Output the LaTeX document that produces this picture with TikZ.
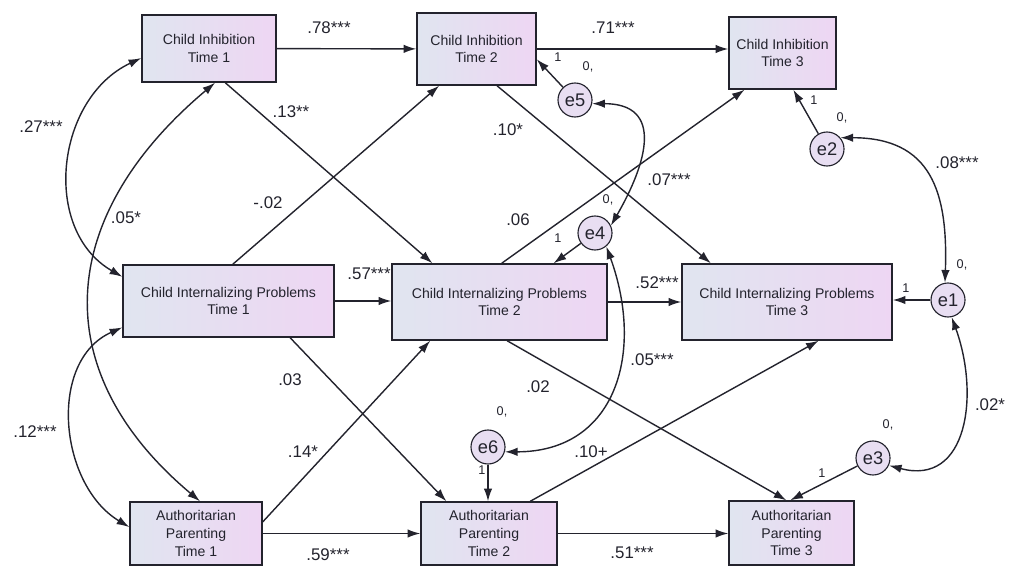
\documentclass[tikz,border=0pt]{standalone}
\usepackage{fontspec}
\setmainfont{Liberation Sans}
\usetikzlibrary{arrows.meta,calc,positioning}
\definecolor{BoxLeft}{RGB}{224,229,240}
\definecolor{BoxRight}{RGB}{238,214,243}
\definecolor{ErrFill}{RGB}{232,222,242}
\definecolor{InkGray}{RGB}{35,35,45}

\tikzset{
  obs/.style={draw=InkGray,line width=1pt,left color=BoxLeft,right color=BoxRight,
    align=center,font=\fontsize{10}{12.5}\selectfont,text=InkGray,inner sep=2pt},
  err/.style={circle,draw=InkGray,line width=0.8pt,fill=ErrFill,minimum size=0.85cm,
    inner sep=0pt,font=\fontsize{13}{13}\selectfont,text=InkGray},
  coef/.style={font=\fontsize{12}{12}\selectfont,text=InkGray,inner sep=1pt},
  fixlbl/.style={font=\fontsize{9}{9}\selectfont,text=InkGray,inner sep=1pt},
  reg/.style={->,line width=1pt,draw=InkGray},
  cov/.style={<->,line width=1pt,draw=InkGray},
}

\begin{document}
\begin{tikzpicture}[x=0.025cm,y=0.025cm,>={Latex[length=9pt,width=6pt]}]
  \useasboundingbox (0,0) rectangle (1011,566);

  % observed variables
  \node[obs,minimum width=3.35cm,minimum height=1.675cm] (ci1) at (209,517.5) {Child Inhibition\\Time 1};
  \node[obs,minimum width=2.975cm,minimum height=1.8cm] (ci2) at (476.5,517) {Child Inhibition\\Time 2};
  \node[obs,minimum width=2.675cm,minimum height=1.8cm] (ci3) at (782.5,513) {Child Inhibition\\Time 3};
  \node[obs,minimum width=5.275cm,minimum height=1.8cm] (cip1) at (228.5,265) {Child Internalizing Problems\\Time 1};
  \node[obs,minimum width=5.375cm,minimum height=1.9cm] (cip2) at (499.5,264) {Child Internalizing Problems\\Time 2};
  \node[obs,minimum width=5.25cm,minimum height=1.9cm] (cip3) at (787,264) {Child Internalizing Problems\\Time 3};
  \node[obs,minimum width=3.3cm,minimum height=1.575cm] (ap1) at (196,32.5) {Authoritarian\\Parenting\\Time 1};
  \node[obs,minimum width=3.4cm,minimum height=1.575cm] (ap2) at (489,32.5) {Authoritarian\\Parenting\\Time 2};
  \node[obs,minimum width=3.125cm,minimum height=1.6cm] (ap3) at (791.5,33) {Authoritarian\\Parenting\\Time 3};

  % residuals
  \node[err] (e5) at (575,466) {e5};
  \node[err] (e2) at (827,417) {e2};
  \node[err] (e4) at (595,333) {e4};
  \node[err] (e1) at (948,266) {e1};
  \node[err] (e6) at (488,119) {e6};
  \node[err] (e3) at (873,108) {e3};

  % stability paths
  \draw[reg] (ci1) -- (ci2);
  \draw[reg] (ci2.east) -- (ci2.east -| ci3.west);
  \draw[reg] (cip1.east) -- (cip1.east -| cip2.west);
  \draw[reg] (cip2.east) -- (cip2.east -| cip3.west);
  \draw[reg] (ap1) -- (ap2);
  \draw[reg] (ap2.east) -- (ap2.east -| ap3.west);

  % cross-lagged paths
  \draw[reg] ($(ci1.south west)!0.62!(ci1.south east)$) -- ($(cip2.north west)!0.19!(cip2.north east)$);
  \draw[reg] ($(cip1.north west)!0.52!(cip1.north east)$) -- ($(ci2.south west)!0.19!(ci2.south east)$);
  \draw[reg] ($(ci2.south west)!0.67!(ci2.south east)$) -- ($(cip3.north west)!0.14!(cip3.north east)$);
  \draw[reg] ($(cip2.north west)!0.51!(cip2.north east)$) -- ($(ci3.south west)!0.15!(ci3.south east)$);
  \draw[reg] ($(cip1.south west)!0.79!(cip1.south east)$) -- ($(ap2.north west)!0.19!(ap2.north east)$);
  \draw[reg] ($(ap1.north east)!0.32!(ap1.south east)$) -- ($(cip2.south west)!0.18!(cip2.south east)$);
  \draw[reg] ($(cip2.south west)!0.535!(cip2.south east)$) -- ($(ap3.north west)!0.46!(ap3.north east)$);
  \draw[reg] ($(ap2.north west)!0.8!(ap2.north east)$) -- ($(cip3.south west)!0.65!(cip3.south east)$);

  % residual paths
  \draw[reg] (e5) -- ($(ci2.north east)!0.64!(ci2.south east)$);
  \draw[reg] (e2) -- ($(ci3.south west)!0.6!(ci3.south east)$);
  \draw[reg] (e4) -- ($(cip2.north west)!0.75!(cip2.north east)$);
  \draw[reg] (e1) -- (e1 -| cip3.east);
  \draw[reg] (e6) -- (e6 |- ap2.north);
  \draw[reg] (e3) -- ($(ap3.north west)!0.49!(ap3.north east)$);

  % covariances
  \draw[cov] ($(ci1.north west)!0.64!(ci1.south west)$) to[out=205,in=150,looseness=1.1] ($(cip1.north west)!0.17!(cip1.south west)$);
  \draw[cov] ($(ci1.south west)!0.545!(ci1.south east)$) to[out=220,in=140,looseness=1.25] ($(ap1.north west)!0.53!(ap1.north east)$);
  \draw[cov] ($(cip1.north west)!0.86!(cip1.south west)$) to[out=204,in=149,looseness=1.05] ($(ap1.north west)!0.4!(ap1.south west)$);
  \draw[cov] (e5.-12) to[out=0,in=60,looseness=1.5] (e4.25);
  \draw[cov] (e4.-50) to[out=-70,in=0,looseness=1.25] (e6.-16);
  \draw[cov] (e2.40) to[out=0,in=88,looseness=1.3] (e1.100);
  \draw[cov] (e1.-78) to[out=-70,in=-15,looseness=1.3] (e3.-25);

  % coefficients
  \node[coef] (c78) at (329,538) {.78***};
  \node[coef] (c71) at (613,538) {.71***};
  \node[coef] (c13) at (291,454) {.13**};
  \node[coef] (c02a) at (268,363) {-.02};
  \node[coef] (c10a) at (508,436) {.10*};
  \node[coef] (c06) at (518,346) {.06};
  \node[coef] (c57) at (369,292) {.57***};
  \node[coef] (c52) at (657,283) {.52***};
  \node[coef] (c03) at (290,186) {.03};
  \node[coef] (c14) at (303,114) {.14*};
  \node[coef] (c02b) at (538,179) {.02};
  \node[coef] (c10b) at (591,114) {.10+};
  \node[coef] (c59) at (328,11) {.59***};
  \node[coef] (c51) at (632,13) {.51***};
  \node[coef] (c27) at (41,439) {.27***};
  \node[coef] (c05a) at (126,348) {.05*};
  \node[coef] (c12) at (35,134) {.12***};
  \node[coef] (c07) at (669,386) {.07***};
  \node[coef] (c05b) at (652,206) {.05***};
  \node[coef] (c08) at (957,403) {.08***};
  \node[coef] (c02c) at (990,161) {.02*};

  % fixed parameters of the residuals
  \node[fixlbl] (f5) at (558,509) {1};
  \node[fixlbl] (v5) at (588,499) {0,};
  \node[fixlbl] (f2) at (814,466) {1};
  \node[fixlbl] (v2) at (842,448) {0,};
  \node[fixlbl] (f4) at (558,328) {1};
  \node[fixlbl] (v4) at (608,366) {0,};
  \node[fixlbl] (f1) at (906,278) {1};
  \node[fixlbl] (v1) at (962,301) {0,};
  \node[fixlbl] (f6) at (482,96) {1};
  \node[fixlbl] (v6) at (502,154) {0,};
  \node[fixlbl] (f3) at (822,93) {1};
  \node[fixlbl] (v3) at (888,141) {0,};
\end{tikzpicture}
\end{document}
